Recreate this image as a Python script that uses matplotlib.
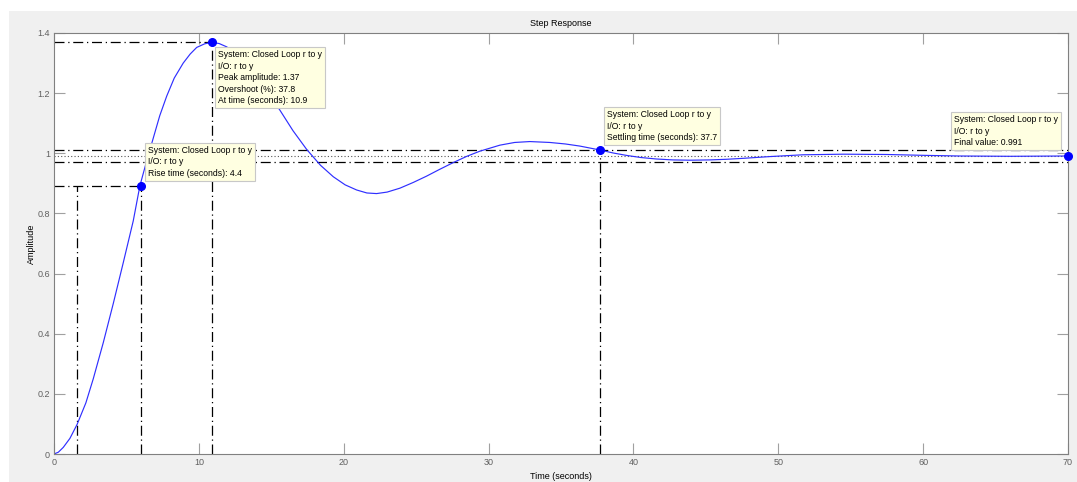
import matplotlib
matplotlib.use('Agg')
import matplotlib.pyplot as plt
from matplotlib.patches import Rectangle

plt.rcParams['font.family'] = ['Liberation Sans', 'DejaVu Sans']

# step response
t_vals = [0, 0.3, 0.64, 1.1, 1.6, 2.2, 2.71, 3.4, 4.09, 4.78, 5.47, 5.93, 6.4, 6.85,
          7.3, 7.78, 8.3, 8.92, 9.4, 9.85, 10.4, 10.88, 11.4, 11.92, 12.4, 13.0, 14.0,
          15.0, 15.6, 16.5, 17.44, 18.4, 19.28, 20.1, 20.89, 21.6, 22.27, 23.0, 23.88,
          24.8, 25.72, 26.6, 27.56, 28.5, 29.4, 30.78, 31.8, 32.85, 34.23, 35.3, 36.3,
          37.68, 38.6, 39.52, 40.5, 41.59, 42.7, 43.9, 45.3, 46.4, 47.5, 49.4, 51.7,
          54.5, 57.5, 60.2, 62.5, 66.0, 70.0]
y_vals = [0, 0.006, 0.022, 0.052, 0.099, 0.17, 0.25, 0.37, 0.50, 0.636, 0.775, 0.892,
          0.975, 1.05, 1.125, 1.19, 1.25, 1.30, 1.33, 1.352, 1.364, 1.369, 1.365, 1.354,
          1.338, 1.31, 1.252, 1.185, 1.143, 1.075, 1.013, 0.96, 0.922, 0.895, 0.878,
          0.868, 0.866, 0.871, 0.884, 0.903, 0.924, 0.946, 0.969, 0.99, 1.007, 1.027,
          1.036, 1.039, 1.036, 1.031, 1.024, 1.011, 1.001, 0.993, 0.986, 0.981, 0.978,
          0.977, 0.978, 0.980, 0.983, 0.989, 0.995, 0.997, 0.996, 0.993, 0.991, 0.990,
          0.991]

final_value = 0.991
rise_lo_t, rise_hi_t = 1.6, 6.0
rise_lo, rise_hi = 0.099, 0.892
peak_t, peak_y = 10.9, 1.369
settle_t, settle_y = 37.7, 1.011
band_hi, band_lo = 1.011, 0.971

rise_text = "System: Closed Loop r to y\nI/O: r to y\nRise time (seconds): 4.4"
peak_text = ("System: Closed Loop r to y\nI/O: r to y\nPeak amplitude: 1.37\n"
             "Overshoot (%): 37.8\nAt time (seconds): 10.9")
settle_text = "System: Closed Loop r to y\nI/O: r to y\nSettling time (seconds): 37.7"
final_text = "System: Closed Loop r to y\nI/O: r to y\nFinal value: 0.991"

fig = plt.figure(figsize=(10.77, 4.82), dpi=100, facecolor='white')
fig.patches.append(Rectangle((9 / 1077, 0), 1, 1 - 11 / 482, transform=fig.transFigure,
                             facecolor='#f0f0f0', edgecolor='none', zorder=-10))
ax = fig.add_axes([54 / 1077, 28 / 482, 1014 / 1077, 421 / 482])

dd = dict(color='black', lw=0.9, ls=(0, (8, 3, 1, 3)))
ax.axhline(band_hi, **dd)
ax.axhline(band_lo, **dd)
ax.axhline(final_value, color='#555555', lw=0.8, ls=(0, (1, 2)))
ax.plot([0, rise_hi_t], [rise_hi, rise_hi], **dd)
ax.plot([rise_lo_t, rise_lo_t], [0, rise_hi], **dd)
ax.plot([rise_hi_t, rise_hi_t], [0, rise_hi], **dd)
ax.plot([0, peak_t], [peak_y, peak_y], **dd)
ax.plot([peak_t, peak_t], [0, peak_y], **dd)
ax.plot([settle_t, settle_t], [0, settle_y], **dd)

ax.plot(t_vals, y_vals, color='#2f2fff', lw=0.85)

mk = dict(marker='o', ms=5.5, color='#0000ff', ls='none', zorder=5, clip_on=False)
ax.plot([rise_hi_t], [rise_hi], **mk)
ax.plot([peak_t], [peak_y], **mk)
ax.plot([settle_t], [settle_y], **mk)
ax.plot([70], [final_value], **mk)

box = dict(boxstyle='square,pad=0.35', facecolor='#ffffe1', edgecolor='#c8c8c8', lw=0.8)
tk = dict(textcoords='offset pixels', fontsize=6.2, linespacing=1.35, bbox=box,
          zorder=6, color='black', multialignment='left')
ax.annotate(rise_text, (rise_hi_t, rise_hi), xytext=(7, 8), ha='left', va='bottom', **tk)
ax.annotate(peak_text, (peak_t, peak_y), xytext=(6, -8), ha='left', va='top', **tk)
ax.annotate(settle_text, (settle_t, settle_y), xytext=(7, 8), ha='left', va='bottom', **tk)
ax.annotate(final_text, (70, final_value), xytext=(-10, 9), ha='right', va='bottom', **tk)

ax.set_xlim(0, 70)
ax.set_ylim(0, 1.4)
ax.set_xticks(range(0, 71, 10))
ax.set_yticks([0, 0.2, 0.4, 0.6, 0.8, 1, 1.2, 1.4])
ax.set_yticklabels(['0', '0.2', '0.4', '0.6', '0.8', '1', '1.2', '1.4'])
ax.tick_params(direction='in', length=8, width=0.8, color='#a0a0a0', labelcolor='#606060',
               labelsize=6.5, top=True, right=True, pad=3)
for s in ax.spines.values():
    s.set_color('#808080')
    s.set_linewidth(0.8)

ax.set_title('Step Response', fontsize=6.5, pad=5)
ax.set_xlabel('Time (seconds)', fontsize=6.5, labelpad=3.5)
ax.set_ylabel('Amplitude', fontsize=6.5, labelpad=1)

fig.savefig('out.png', dpi=100, facecolor=fig.get_facecolor())
